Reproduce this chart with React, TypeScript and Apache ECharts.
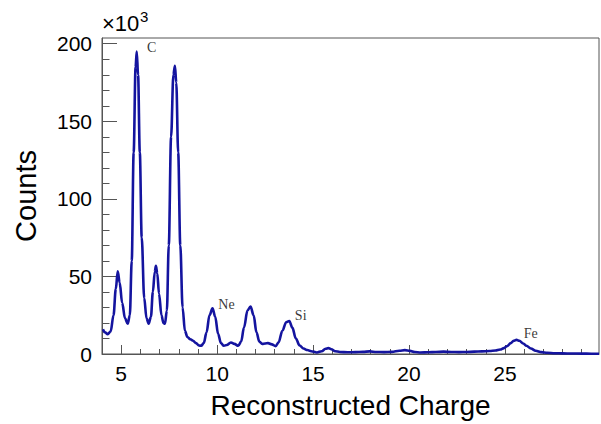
import React, { useEffect, useRef } from "react";
import * as echarts from "echarts";

// Reconstructed charge (x) and counts in units of 10^3 (y)
const chargeX = [
  4.05, 4.15, 4.3, 4.45, 4.6, 4.72, 4.82, 4.92, 5.05, 5.2, 5.34, 5.45, 5.55, 5.65, 5.75, 5.81, 5.88,
  5.97, 6.07, 6.2, 6.32, 6.43, 6.55, 6.65, 6.75, 6.81, 6.88, 6.97, 7.1, 7.2, 7.28, 7.38, 7.48, 7.6,
  7.72, 7.8, 7.87, 7.97, 8.08, 8.2, 8.32, 8.45, 8.6, 8.75, 8.9, 9.05, 9.17, 9.3, 9.45, 9.6, 9.76,
  9.9, 10.05, 10.2, 10.35, 10.5, 10.72, 10.9, 11.1, 11.25, 11.4, 11.58, 11.74, 11.9, 12.05, 12.2,
  12.35, 12.5, 12.65, 12.85, 13.05, 13.2, 13.4, 13.6, 13.76, 13.92, 14.1, 14.3, 14.5, 14.7, 14.9,
  15.2, 15.45, 15.65, 15.8, 15.95, 16.15, 16.4, 16.8, 17.2, 17.6, 17.95, 18.3, 18.7, 19.1, 19.5,
  19.78, 20.05, 20.3, 20.6, 21.0, 21.4, 21.8, 22.2, 22.6, 23.0, 23.4, 23.8, 24.2, 24.5, 24.75,
  24.95, 25.1, 25.3, 25.45, 25.6, 25.75, 25.95, 26.12, 26.35, 26.6, 26.9, 27.2, 27.6, 28.0, 28.5,
  29.0, 29.5, 29.9,
];
const counts = [
  16.0, 14.0, 12.8, 14.5, 25, 42, 53.3, 46, 33, 23, 19.5, 25, 60, 130, 185, 195, 180,
  130, 75, 36, 23, 19.5, 24, 40, 53, 56.8, 52, 39, 25, 20, 19.5, 28, 70, 140,
  180, 185.8, 175, 130, 70, 30, 15, 11, 9.5, 8.5, 7, 5.5, 5.3, 7, 14, 25, 29.4,
  24, 13, 7, 5.3, 5.8, 7.4, 6.5, 5.3, 8, 17, 28, 30.6, 25, 14, 8,
  6.5, 6.8, 7, 6.2, 5.1, 7.5, 15, 20.5, 21.3, 17, 10, 5.5, 3.5, 2.6, 1.8,
  1.0, 1.8, 3.4, 3.8, 3.1, 1.8, 1.3, 1.1, 1.2, 1.4, 1.7, 1.3, 1.2, 1.4, 2.1,
  2.5, 2.0, 1.3, 1.0, 1.1, 1.3, 1.5, 1.3, 1.2, 1.3, 1.5, 1.7, 1.9, 2.3, 2.9,
  3.8, 5.0, 7.0, 8.5, 9.1, 8.5, 6.8, 5.3, 3.5, 2.1, 1.2, 0.8, 0.5, 0.4, 0.3,
  0.25, 0.2, 0.2,
];

// Peak annotations
const peakNames = ["C", "Ne", "Si", "Fe"];
const peakLabelX = [6.34, 10.06, 14.05, 25.98];
const peakLabelY = [197.6, 31.9, 24.5, 13.0];

// Axis ticks
const xMajorTicks = [5, 10, 15, 20, 25];
const xMinorTicks = [5, 6, 7, 8, 9, 10, 11, 12, 13, 14, 15, 16, 17, 18, 19, 20, 21, 22, 23, 24, 25, 26, 27, 28, 29, 4];
const yMajorTicks = [0, 50, 100, 150, 200];
const yMinorTicks = [0, 10, 20, 30, 40, 50, 60, 70, 80, 90, 100, 110, 120, 130, 140, 150, 160, 170, 180, 190, 200];

const X_MIN = 4;
const X_MAX = 29.9;
const Y_MAX = 203.7;

export default function App() {
  const ref = useRef<HTMLDivElement>(null);

  useEffect(() => {
    if (!ref.current) return;
    const chart = echarts.init(ref.current, null, { renderer: "svg" });
    const axisColor = "#555555";
    const sans = "'Liberation Sans', Arial, sans-serif";
    const serif = "'Liberation Serif', 'Times New Roman', serif";

    const lineData = chargeX.map((x, i) => [x, counts[i]]);
    const labelData = peakNames.map((n, i) => ({ value: [peakLabelX[i], peakLabelY[i]], name: n }));

    chart.setOption({
      animation: false,
      backgroundColor: "#ffffff",
      grid: {
        left: 102,
        right: 2,
        top: 38,
        bottom: 67.4,
        show: true,
        borderColor: axisColor,
        borderWidth: 1,
        backgroundColor: "transparent",
        containLabel: false,
      },
      xAxis: [
        {
          type: "value",
          position: "bottom",
          min: X_MIN,
          max: X_MAX,
          interval: 1,
          axisLine: { show: true, onZero: false, lineStyle: { color: axisColor, width: 1 } },
          axisTick: {
            show: true,
            inside: true,
            length: 9,
            customValues: xMajorTicks,
            lineStyle: { color: axisColor, width: 1 },
          },
          axisLabel: {
            show: true,
            customValues: xMajorTicks,
            fontSize: 21,
            color: "#000",
            fontFamily: sans,
            margin: 9,
          },
          splitLine: { show: false },
          name: "Reconstructed Charge",
          nameLocation: "middle",
          nameGap: 37,
          nameTextStyle: { fontSize: 28, color: "#000", fontFamily: sans },
        },
        {
          type: "value",
          position: "bottom",
          min: X_MIN,
          max: X_MAX,
          interval: 1,
          axisLine: { show: false, onZero: false },
          axisTick: {
            show: true,
            inside: true,
            length: 5,
            customValues: xMinorTicks,
            lineStyle: { color: axisColor, width: 1 },
          },
          axisLabel: { show: false },
          splitLine: { show: false },
        },
      ],
      yAxis: [
        {
          type: "value",
          position: "left",
          min: 0,
          max: Y_MAX,
          interval: 50,
          axisLine: { show: true, onZero: false, lineStyle: { color: axisColor, width: 1 } },
          axisTick: {
            show: true,
            inside: true,
            length: 15,
            customValues: yMajorTicks,
            lineStyle: { color: axisColor, width: 1 },
          },
          axisLabel: {
            show: true,
            customValues: yMajorTicks,
            fontSize: 21,
            color: "#000",
            fontFamily: sans,
            margin: 10,
          },
          splitLine: { show: false },
          name: "Counts",
          nameLocation: "middle",
          nameGap: 62,
          nameRotate: 90,
          nameTextStyle: { fontSize: 29, color: "#000", fontFamily: sans },
        },
        {
          type: "value",
          position: "left",
          min: 0,
          max: Y_MAX,
          interval: 10,
          axisLine: { show: false, onZero: false },
          axisTick: {
            show: true,
            inside: true,
            length: 7.5,
            customValues: yMinorTicks,
            lineStyle: { color: axisColor, width: 1 },
          },
          axisLabel: { show: false },
          splitLine: { show: false },
        },
      ],
      graphic: [
        {
          type: "text",
          left: 102,
          top: 12,
          style: { text: "×10", fontSize: 22, fontFamily: sans, fill: "#000" },
        },
        {
          type: "text",
          left: 140,
          top: 9,
          style: { text: "3", fontSize: 15, fontFamily: sans, fill: "#000" },
        },
      ],
      series: [
        {
          type: "line",
          xAxisIndex: 0,
          yAxisIndex: 0,
          data: lineData,
          smooth: 0.35,
          smoothMonotone: "x",
          showSymbol: false,
          symbol: "none",
          lineStyle: { color: "#14149f", width: 2.6 },
          clip: true,
        },
        {
          type: "scatter",
          xAxisIndex: 0,
          yAxisIndex: 0,
          data: labelData,
          symbolSize: 0,
          silent: true,
          label: {
            show: true,
            position: "right",
            distance: 0,
            formatter: (p: any) => p.name,
            fontSize: 14,
            fontFamily: serif,
            color: "#000",
          },
        },
      ],
    });

    return () => {
      chart.dispose();
    };
  }, []);

  return (
    <div
      ref={ref}
      style={{ position: "fixed", left: 0, top: 0, width: 601, height: 424, background: "#fff" }}
    />
  );
}
